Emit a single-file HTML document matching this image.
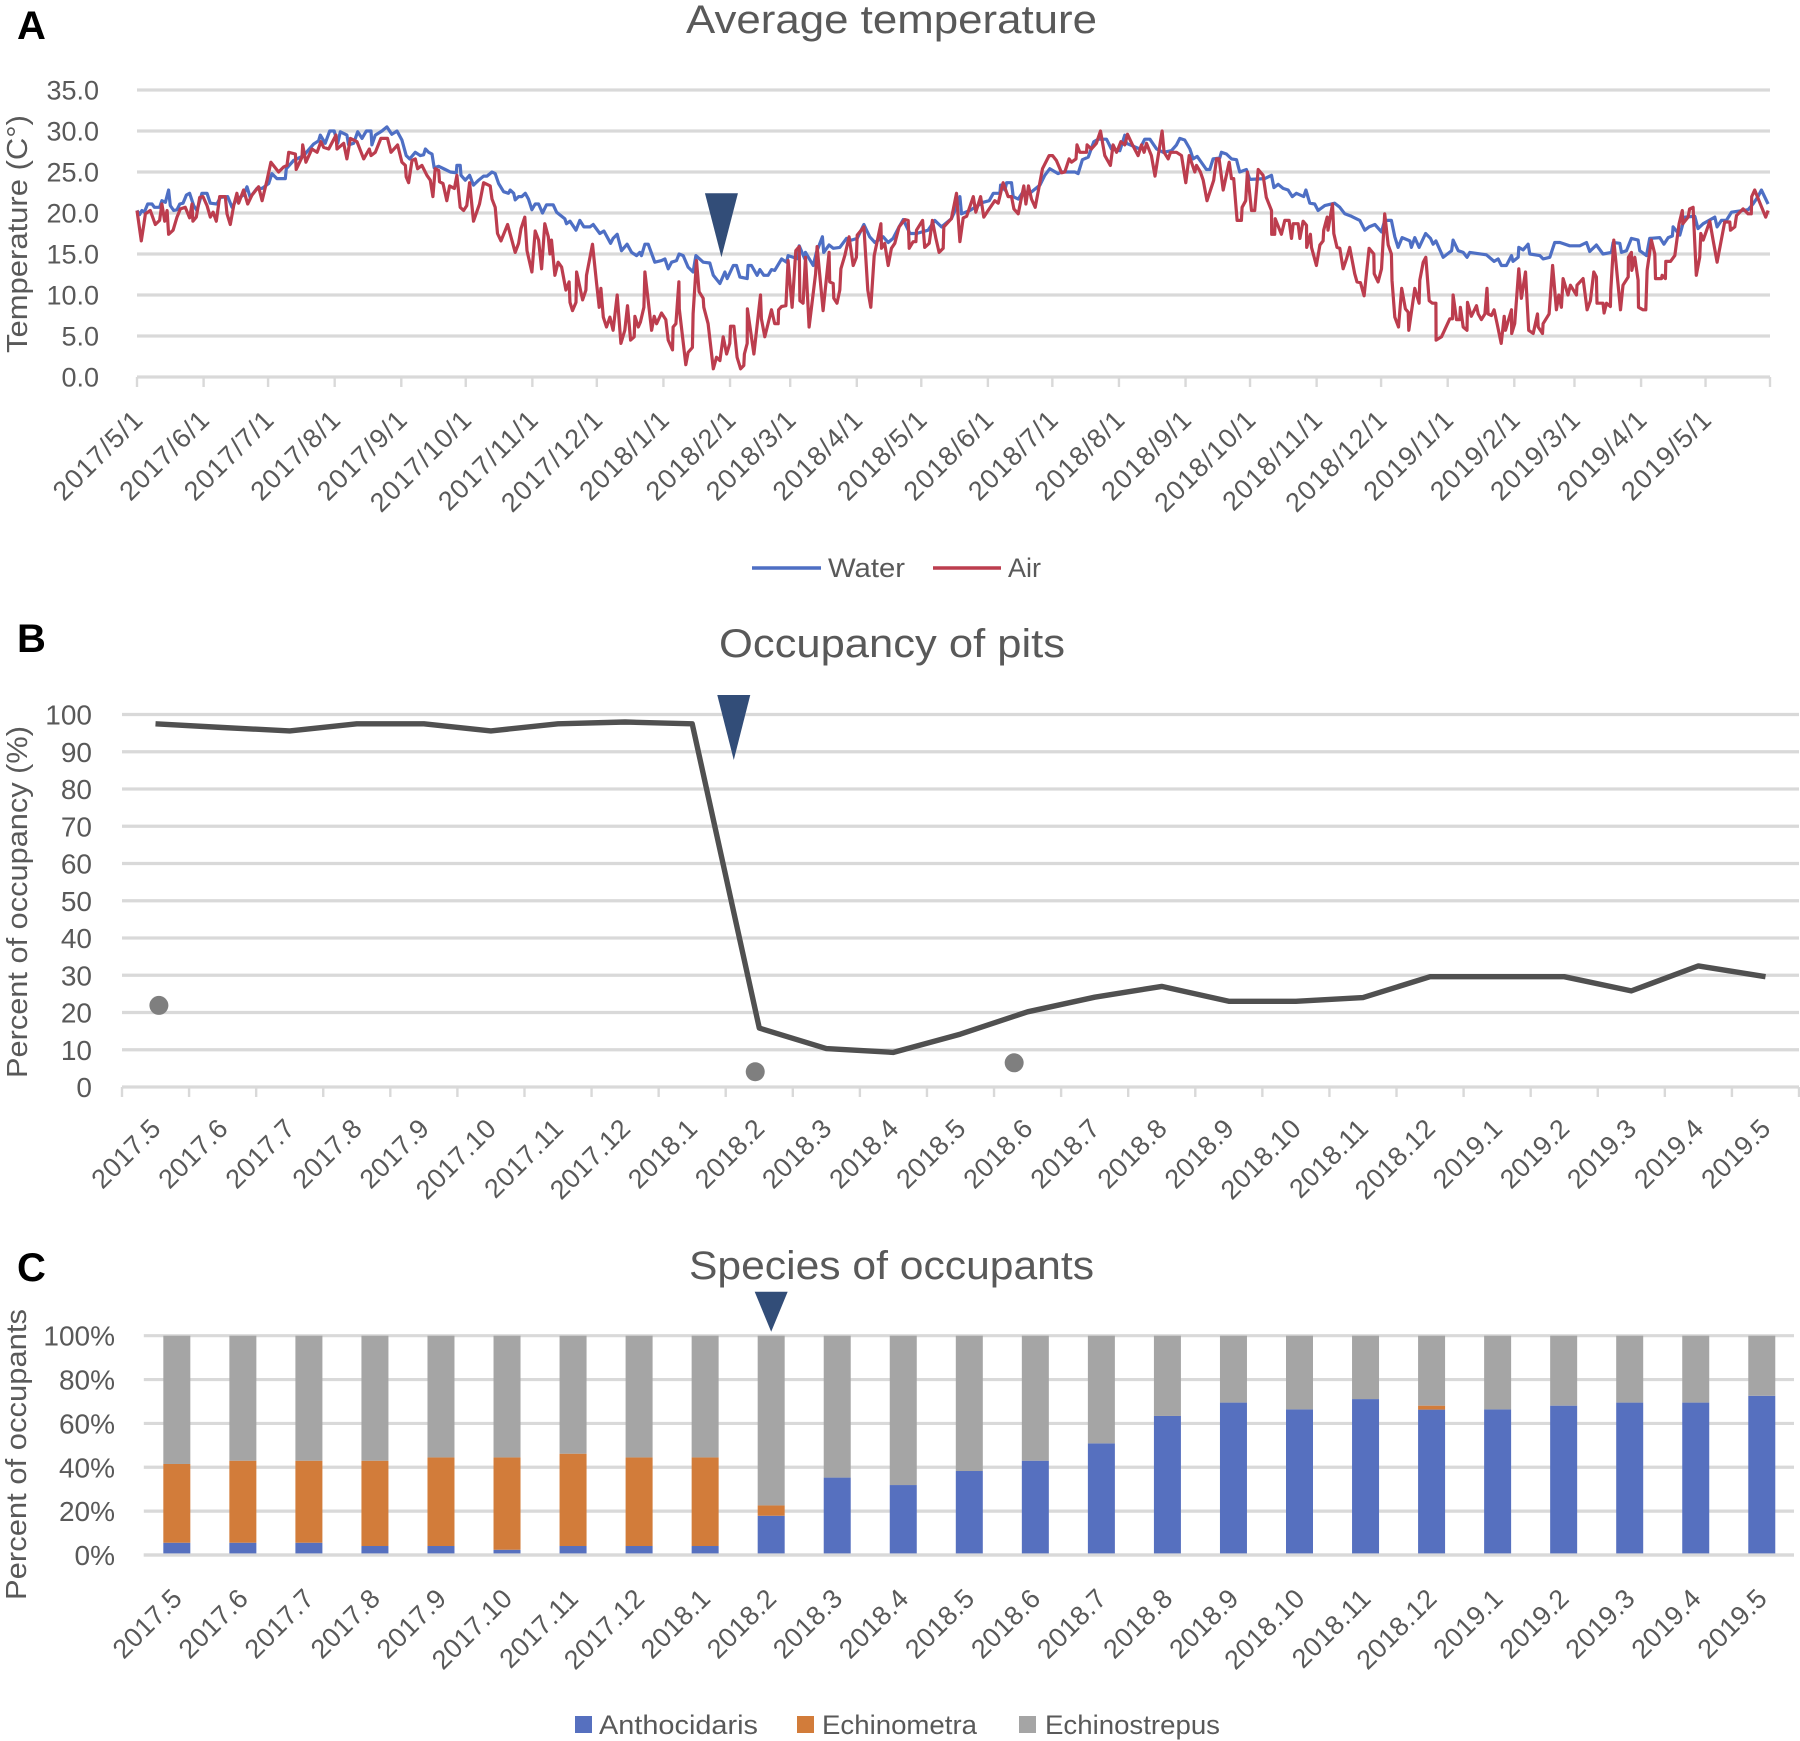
<!DOCTYPE html>
<html lang="en">
<head>
<meta charset="utf-8">
<title>Temperature, pit occupancy and occupant species</title>
<style>
html,body{margin:0;padding:0;background:#fff;}
svg{display:block;font-family:"Liberation Sans",Arial,sans-serif;}
</style>
</head>
<body>
<svg id="figure" xmlns="http://www.w3.org/2000/svg" width="1800" height="1741" viewBox="0 0 1800 1741">
  <rect x="0" y="0" width="1800" height="1741" fill="#ffffff"/>

  <text x="17" y="39" font-size="40" font-weight="700" fill="#000">A</text>
  <text x="17" y="652" font-size="40" font-weight="700" fill="#000">B</text>
  <text x="17" y="1281" font-size="40" font-weight="700" fill="#000">C</text>

  <text x="686" y="33" font-size="40" fill="#595959" textLength="411" lengthAdjust="spacingAndGlyphs">Average temperature</text>
  <text x="719" y="657" font-size="40" fill="#595959" textLength="346" lengthAdjust="spacingAndGlyphs">Occupancy of pits</text>
  <text x="689" y="1279" font-size="40" fill="#595959" textLength="405" lengthAdjust="spacingAndGlyphs">Species of occupants</text>

  <text transform="translate(27,353) rotate(-90)" font-size="29" fill="#595959" textLength="238" lengthAdjust="spacingAndGlyphs">Temperature (C°)</text>
  <text transform="translate(27,1078) rotate(-90)" font-size="29" fill="#595959" textLength="352" lengthAdjust="spacingAndGlyphs">Percent of occupancy (%)</text>
  <text transform="translate(26,1600) rotate(-90)" font-size="29" fill="#595959" textLength="291" lengthAdjust="spacingAndGlyphs">Percent of occupants</text>

  <g id="chartA"></g>
  <g id="chartB"></g>
  <g id="chartC"></g>

  <g>
    <line x1="752" y1="568" x2="821" y2="568" stroke="#4E6FC4" stroke-width="3.4"/>
    <text x="828" y="577" font-size="27" fill="#595959" textLength="77" lengthAdjust="spacingAndGlyphs">Water</text>
    <line x1="933" y1="568" x2="1001" y2="568" stroke="#BC3D4E" stroke-width="3.4"/>
    <text x="1008" y="577" font-size="27" fill="#595959" textLength="33" lengthAdjust="spacingAndGlyphs">Air</text>
  </g>
  <g>
    <rect x="575" y="1716" width="17" height="17" fill="#5670BF"/>
    <text x="599" y="1734" font-size="27" fill="#595959" textLength="159" lengthAdjust="spacingAndGlyphs">Anthocidaris</text>
    <rect x="797" y="1716" width="17" height="17" fill="#D27C3A"/>
    <text x="822" y="1734" font-size="27" fill="#595959" textLength="155" lengthAdjust="spacingAndGlyphs">Echinometra</text>
    <rect x="1019" y="1716" width="17" height="17" fill="#A5A5A5"/>
    <text x="1045" y="1734" font-size="27" fill="#595959" textLength="175" lengthAdjust="spacingAndGlyphs">Echinostrepus</text>
  </g>
</svg>

<script>
/* ---------- Panel A data: days since 2017/5/1 and temperature in deg C ---------- */
const tempTickLabels = ["2017/5/1","2017/6/1","2017/7/1","2017/8/1","2017/9/1","2017/10/1","2017/11/1","2017/12/1","2018/1/1","2018/2/1","2018/3/1","2018/4/1","2018/5/1","2018/6/1","2018/7/1","2018/8/1","2018/9/1","2018/10/1","2018/11/1","2018/12/1","2019/1/1","2019/2/1","2019/3/1","2019/4/1","2019/5/1"];
const tempTickDays = [0,31,61,92,123,153,184,214,245,276,304,335,365,396,426,457,488,518,549,579,610,641,669,700,730];
const tempAxisEndDay = 760;
const tempYTicks = [0,5,10,15,20,25,30,35];
const tempEventDay = 272;
const tempEventTip = 14.6;

const waterDays = [0,1.2,2.3,3.4,5,7,8.1,10.5,11.6,13.2,14.7,15.5,17.1,18.6,19.9,21.4,23,24.5,26.4,27.9,30.2,32.6,34.1,37.2,38.8,42.2,44.2,46.5,49.6,51.2,52.7,55.8,58.2,61.3,62.8,65.1,69,69.5,72.9,77.6,82.2,84.5,85.3,87.6,89.7,91.8,93.4,94.6,97.7,98.5,100.8,102.7,104.7,106.7,108.9,109.3,110.9,114,116.3,118.6,121,123.3,125.3,126.9,129.5,131.8,133.4,134.2,135.7,137.3,138.3,140.4,143.5,145.8,148.6,148.9,150.4,150.8,152.8,154.8,156.6,159,161.3,162.9,165.2,166.7,168.3,170.6,172.9,173.7,175.3,176,177.6,179.1,180.7,182.2,183.8,185.3,186.9,188.7,190.6,193.7,195.3,199.1,199.9,201.5,204.3,206.1,208,210.8,212.3,215.4,217.3,220.4,221.6,223.5,225.5,228.1,230.2,232.5,234,234.8,236.4,237.9,241,244.1,245.7,247.2,248.8,251.1,252.3,254.2,256.5,258.8,260.1,263.5,266.6,268.2,271.3,273.6,274.7,277.5,279,280.6,284,284.4,286,288.6,289.9,291.7,293.7,295.3,296.8,300,302.3,303,307.7,308.2,310.8,311.1,314.7,316.2,319,319.6,322.1,324,327.1,330.2,332.5,335.2,338.3,341,343.4,347.3,349.6,351.9,354.7,356.6,359.7,362.8,368.2,371.3,374.4,379,381.4,383,383.7,387.6,393.8,396.6,398.5,401.6,401.9,403.9,404.7,407,407.8,410.1,412.4,415.5,420.2,422.5,424.8,428.7,430.3,436.5,438,440,442.7,445.3,447.3,451.2,453.5,457.4,459.7,460.5,466.7,469,471.4,474.5,477.6,481.4,483.8,485.3,487.6,490,491.5,493.4,497.7,499.3,500.8,503.9,504.7,507,509.4,511.7,513.2,516.3,517.9,524.9,528,529.1,531.1,533.4,535.7,537.7,539.6,543,544,545.8,548.1,549.7,552.8,557.4,559.8,562.1,565.2,569.1,571.4,573.4,576.1,579.2,580.7,583.8,585.4,586.9,588.8,592.4,593.1,594.7,596.7,599.7,602,603.2,604.5,607.9,611.8,612.5,614.9,617.2,619,620.3,628,631.6,633.5,635,637.3,639.7,640.4,642.8,643.1,645.1,647.4,648.2,652.9,654.4,657.5,659.8,662.2,666.8,671.5,674.6,676.1,679.2,682.3,686.2,687,690.1,690.9,693.2,695.5,698.6,699.4,702.5,704,708.7,710.6,712.6,714.6,714.9,718,720.3,725,726.5,728.9,734.3,735.4,737.4,739.7,742.1,749.8,752.1,754.4,756,759.1];
const waterTemps = [20.3,19.8,20.3,20.1,21.1,21.1,20.7,20.7,21.5,21.3,22.8,20.9,20.3,20.4,21.1,21.2,22.2,22.4,20.9,20.3,22.4,22.4,21.2,21.1,21.9,22,20.7,21.7,22.2,23.2,21.9,23,23,23.6,24.8,24.2,24.2,25.4,26.4,27,28.4,28.8,29.5,28.5,30,30,28.5,29.9,29.5,28.3,28.5,29.9,29.1,30,30,28.3,29.5,30,30.5,29.6,30,28.9,27,26.6,27.4,27,27.1,27.8,27.4,27.2,25.5,25.7,25.3,25,24.9,25.8,25.8,24.6,24,24.6,23.4,24,24.5,24.5,25,24.8,23.6,22.6,22.4,22.8,22.4,21.6,22,22,22.4,21.7,20.4,21.1,21.1,20,21,21,20.1,19.3,18.7,19,17.9,19.1,18.3,18.3,18.6,17.5,17.8,16.3,16.9,17.4,15.4,16.2,15.2,14.8,15.2,14.8,16.2,16.2,14,14.2,14.4,13.2,14,14.2,15,14.8,13.4,12.8,14.8,14,13.9,12.4,11.4,12.8,12,13.6,13.6,12.2,12,13.6,13.6,12.4,13.1,12.4,12.4,13.1,13,14.4,14,14.8,14.4,16,14.4,15.2,13.6,15.2,17.1,15.2,16.1,15.7,15.8,16.9,16.7,16.9,18.6,17.1,16.4,17.1,16.4,16.9,18.3,19.2,17.5,17.5,17.9,19.1,18.3,19.3,20.7,22,19.9,20.3,21.3,21.5,22.4,22.4,23.4,22.8,23.7,23.7,22,21.7,22.6,22.4,23.4,24.6,25.4,24.8,25,25,24.8,26.5,26.8,28.7,29,29,27.8,27.6,29.5,28.5,27.8,29,29,27.8,27.4,27.6,28.3,29.1,28.9,27.8,26.6,26.9,25.3,25.3,26.6,26.7,27.4,27.2,26.6,26.5,25,25.3,24.1,24.2,24.6,23.1,23.5,23,22.8,22,22.4,22,22.8,21.2,21.1,20.3,20.9,21.2,20.7,19.9,19.6,19.1,17.9,18.3,18.6,17.7,19.1,19.1,17.1,15.8,17,16.6,15.8,17,15.8,17.5,16.9,16.2,16.6,14.6,15.4,16.7,15.4,15.2,14.6,15.2,14.9,14.1,14.4,13.6,13.6,14.8,14.1,14.6,15.8,15.5,16.2,15,14.8,14.4,14.6,16.4,16.4,16,16,16.4,15.3,16.1,15,15.2,16.4,16.3,15.2,15.4,16.9,16.7,15.4,14.8,16.9,17,16.2,17,17.2,18.3,17.3,19.5,19.6,18.1,18.7,19.5,18.3,19.1,19.1,20.1,20.4,21.1,22,22.8,21.1];

const airDays = [0,2,3.1,3.9,6.2,8.5,10.5,11.6,12.9,14,14.7,16.8,18.6,20.2,22.5,24.5,25.6,26,27.6,29.2,30.7,32.6,34.1,35.4,36.9,38.5,41.1,41.9,43.4,45,46.5,47.3,49.6,51.5,53.5,56.6,58.2,60.5,62.3,65.9,68.2,69.8,70.6,73.7,74.1,76.8,77.1,78.6,81.4,83.8,85.6,86.9,89.2,92.6,93.1,96.2,97.7,99.3,102.4,105.5,108.1,108.9,110.9,113.5,116.6,118.2,121.3,123.3,124.9,125.3,126.4,128,129.5,130.6,132.6,134.9,136.5,137.7,138.8,140.4,140.8,142.4,144.2,145.5,147.7,148.9,150.4,152,153.5,154.8,156.6,159.4,161.3,164.4,165.2,166.7,167.8,169.4,172.5,176,177.6,178.7,180.5,181.5,183.8,185.3,186.9,188.3,189.8,191.4,192.2,192.9,194.5,196,197.6,199.6,201.1,201.5,202.7,204.3,204.6,207.4,208.9,209.2,212,213.9,215.1,215.9,217,218.5,220.1,221.6,223.5,225.2,227,228.3,229.7,231.4,231.7,233.3,234.3,235.9,236.4,237.9,239.5,240.7,241.8,244.1,246.1,247.2,249.2,249.5,250.8,252.2,252.4,255.4,256.5,258.5,258.8,260.4,261.6,263.5,263.8,265.8,268.2,269.7,271.3,272.8,274.4,275.9,276.2,277.8,279.3,280.9,282.4,282.7,284,284.1,287.1,290.2,290.6,292.2,295.3,296.8,298.4,298.6,300,302,303,304.9,306.6,308.2,308.5,310,311.1,312.8,315.8,316.5,319.3,322.1,322.4,324,324.3,325.8,327.1,327.6,329.4,331.4,333.3,334.8,335.2,338.3,340.1,341.5,343.1,346.2,346.5,348,349.6,351.1,352.7,354.7,357.3,358.9,359.4,361.2,362.5,362.8,365.6,366.6,368.7,370.2,371.8,373.3,375.2,375.5,379,381.4,383,384.5,386.1,389.2,390.4,392.6,394.1,396.1,399.2,400.8,403.1,405.4,407,408.1,410.1,412.7,413.7,414.9,416.3,418,421.4,424.5,426.1,427.9,430.3,431.8,433.8,434.9,437,437.5,438.8,441.9,442.2,444.2,446.5,448.4,450.4,453,454.3,455.9,457.9,459.7,461,463.3,465.9,467.5,468.7,469.8,472.1,473.8,477.1,478,479.9,481,483.8,486.1,488.1,489.7,492.3,493.1,494.9,496.2,498,501.1,502.4,503.6,505.5,508.3,509.4,510.4,512,514,514.3,516,516.8,518.7,520.2,521.8,524.1,525.6,528,528.1,529.5,529.7,532.6,534.2,536.2,537.3,538.1,540.4,541.2,542.7,544.3,544.4,546.1,546.6,548.9,550.5,552,552.3,553.9,554.3,556.4,557,558.5,559.8,561.3,562.9,564.4,566.7,567.8,569.4,571.1,573.4,575.6,575.8,577.6,579.2,580.7,582.3,583.8,584.1,585.4,587.1,588.6,590.3,591.6,591.9,594.7,596.7,597,598.6,599.8,601.4,602.9,604.5,604.6,607.1,611,612.2,612.5,614.1,615.6,615.9,617.2,619,619.2,621,623.4,624.2,625.7,627.3,628.3,628.8,630.4,631.6,633,634.9,636.3,636.9,639.7,639.8,641.2,643.1,644.3,646.2,647.7,649.8,651.8,652.1,654.1,654.4,657.2,658.8,660.6,661.7,662.9,663.7,666,667.1,669.9,670.2,673,674.9,676.4,678,679.2,679.5,682.3,682.8,683.9,685.7,685.9,687.3,690.4,691.6,694,694.1,695.5,695.7,697.1,698.6,698.8,700.9,702.2,702.8,704.8,706.4,706.7,709.5,709.8,711.3,711.5,713.7,715.7,717.7,719.2,719.4,721.9,722.6,724.2,725.7,727.3,727.8,728.9,732,733.5,735.4,738.9,741.3,741.6,743.6,744.4,747.5,749.8,751.3,751.5,752.9,754.9,758,759.1];
const airTemps = [20.3,16.6,18.5,19.9,20.3,18.6,19.1,21.1,19,20.3,17.4,17.9,19.5,20.5,20.7,19.4,21.1,19,19.5,21.9,22,20.9,19.5,20.1,19,22,22,19.9,18.6,20.9,22.4,21.2,22.8,21.1,22.2,23.2,21.5,24,26.2,25,25.6,25.8,27.4,27.2,25.3,26.8,28.3,26.2,27.8,27.4,28.7,28,27.8,29.5,27.8,28.5,26.6,29.1,28.7,26.6,27.8,27,27.4,29.1,29.1,27.4,28.3,26.2,25.8,24.4,23.7,26.4,26.6,25.4,25.8,24.6,24,22,25.4,25.2,23.8,23.6,21.5,23.3,23,24.6,20.7,20.3,20.9,23.7,19,21.1,23.7,23.3,21.7,20.7,17.5,16.6,18.6,15.2,16.3,18.1,19.5,15.4,12.8,17.8,16.7,13.2,18.7,17.1,15,16.7,12.4,14,13.4,10.6,11.6,9.1,8.1,9.1,12.8,9.4,10.6,12.4,16.2,11.4,8.5,10.8,7.3,6.1,7.3,5.7,10,4.1,5.7,8.7,4.5,4.9,7.4,6.1,6.7,8.5,12.8,9.3,5.7,7.4,6.5,7.8,7,4.5,3.3,6.1,6.5,11.6,8.3,1.5,3,3.6,7.7,14.2,10.4,9.6,8.5,6.5,1,2.4,2,4.9,2.8,4.1,6.2,6.2,2.4,1,1.4,2.8,4.1,8.3,2.8,10,7.1,4.9,8.2,6.5,6.5,8.2,8.6,8.7,14.2,8.5,15.4,15.9,9.3,9,14.6,6.1,12.6,15.9,8.1,15.2,11.6,11.4,9.6,9,10.6,13.2,14.8,17.1,13.6,14.6,17.3,18.3,10.6,8.5,14.8,18.7,15.7,16.3,13.6,15.7,16.3,18.3,19.2,19.1,15.7,16.5,16.5,17.9,19.1,15.8,16.3,19.1,16.9,15.2,15.7,18.3,19.3,22.4,16.5,19.4,19.6,22,20.1,22,19.5,20.3,21.5,21.2,23.7,22,22,20.5,19.9,23.3,21.1,23.3,21.7,20.7,25.4,27,27,26.4,24.9,25,26.6,26.2,26.6,28.3,27.4,27.4,28.3,27.8,28.5,30,27,25.8,28.3,27.4,28.7,28.3,29.6,28.3,27,28.3,27.4,28.5,27,24.5,30,27.4,26.6,27.4,27.4,27,23.7,27,25,25.8,25,24,21.5,24,26.6,26.6,22.8,26.2,24.2,24.2,19.1,19.1,20.7,21.5,25,20.3,20.3,25.3,24.6,21.9,20.3,17.4,17.4,19.3,17.4,19.1,19.1,16.9,18.7,18.7,16.9,19,18.5,15.8,17.4,15.8,13.6,16.1,16.6,17.9,19.5,17.9,21.1,17.5,15.8,15.7,13.2,14.4,15.8,12.6,11.6,11.5,9.9,15.7,15,12.6,11.6,13.2,19.9,16.1,15,11.8,7.3,6.1,10.8,8.3,7.9,5.7,10.8,9,11.8,14,14.6,9.3,9,9,4.5,4.9,7.1,7.1,10,7,7,8.5,6.1,5.7,9.1,7.4,8.7,7.7,7,7.7,10.8,7.7,7.5,8.2,6.5,4.1,7.4,5.7,8.2,5.3,6.5,13.2,9.6,12.8,5.7,5.3,7.7,6.1,5.3,6.5,7.7,13.6,8.2,10,8.5,12,10,11.2,10,11.2,12,8.2,9.3,12.8,12.2,9,9,7.8,9,8.6,10.6,16.7,8.2,11.2,12.2,14.6,15.2,13,14.6,11.8,8.5,8.2,8.2,13,16.7,15,12,12,12.4,12,14.1,14.1,14.8,18.7,20.3,18.7,19.5,20.5,20.7,12.4,14.6,17.5,16.7,19,16.7,14,18.9,18.9,17.9,18.3,19.7,20.5,19.9,19.9,22,22.8,21.5,19.5,20.3];

/* ---------- Panel B data ---------- */
const months = ["2017.5","2017.6","2017.7","2017.8","2017.9","2017.10","2017.11","2017.12","2018.1","2018.2","2018.3","2018.4","2018.5","2018.6","2018.7","2018.8","2018.9","2018.10","2018.11","2018.12","2019.1","2019.2","2019.3","2019.4","2019.5"];
const occupancy = [97.5,96.5,95.6,97.5,97.5,95.6,97.5,98,97.5,15.8,10.3,9.3,14.2,20.2,24.1,27,23,23,24,29.6,29.6,29.6,25.8,32.5,29.6];
const occupancyYTicks = [0,10,20,30,40,50,60,70,80,90,100];
const markerPositions = [0.05,8.94,12.8];
const markerValues = [21.9,4.1,6.5];
const occupancyEventPos = 8.62;
const occupancyEventTip = 87.8;

/* ---------- Panel C data (percent) ---------- */
const anthocidaris = [5.6,5.6,5.6,4.1,4.1,2.4,4.1,4.1,4.1,17.9,35.3,31.9,38.3,43,50.9,63.4,69.5,66.4,71.1,66.3,66.4,68.1,69.5,69.5,72.6];
const echinometra = [35.9,37.4,37.4,38.9,40.4,42.1,42.1,40.4,40.4,4.7,0,0,0,0,0,0,0,0,0,1.8,0,0,0,0,0];
const echinostrepus = [58.5,57,57,57,55.5,55.5,53.8,55.5,55.5,77.4,64.7,68.1,61.7,57,49.1,36.6,30.5,33.6,28.9,31.9,33.6,31.9,30.5,30.5,27.4];
const speciesYTicks = [0,20,40,60,80,100];
const speciesEventPos = 9;
const speciesEventTip = 101.8;

/* ---------- Drawing helpers ---------- */
const NS = "http://www.w3.org/2000/svg";
const GRID = "#D9D9D9", INK = "#595959", NAVY = "#324D78";
function make(parent, tag, attrs, text) {
  const node = document.createElementNS(NS, tag);
  for (const k in attrs) node.setAttribute(k, attrs[k]);
  if (text !== undefined) node.textContent = text;
  parent.appendChild(node);
  return node;
}
function triangle(parent, tipX, tipY, halfWidth, height) {
  return make(parent, "polygon", {
    points: (tipX - halfWidth) + "," + (tipY - height) + " " + (tipX + halfWidth) + "," + (tipY - height) + " " + tipX + "," + tipY,
    fill: NAVY
  });
}
function polyPoints(xs, ys) {
  return xs.map(function (x, i) { return x.toFixed(1) + "," + ys[i].toFixed(1); }).join(" ");
}

/* ---------- Panel A ---------- */
(function () {
  const g = document.getElementById("chartA");
  const x = function (d) { return 137 + d * (1770 - 137) / tempAxisEndDay; };
  const y = function (v) { return 377 - v * (377 - 90) / 35; };

  tempYTicks.forEach(function (t) {
    const line = make(g, "line", { x1: 137, x2: 1770, y1: y(t), y2: y(t), stroke: GRID, "stroke-width": 3.2 });
    
    
    const label = make(g, "text", { x: 99, y: y(t) + 9.5, "font-size": 27, fill: INK, "text-anchor": "end" }, t.toFixed(1));
    
    
  });

  tempTickDays.concat([tempAxisEndDay]).forEach(function (d) {
    const tick = make(g, "line", { x1: x(d), x2: x(d), y1: 377, y2: 387, stroke: GRID, "stroke-width": 2.4 });
    
    
  });

  tempTickLabels.forEach(function (lab, i) {
    const ex = x(tempTickDays[i]) + 8, ey = 421;
    const label = make(g, "text", {
      transform: "translate(" + ex + "," + ey + ") rotate(-45)",
      "font-size": 27, fill: INK, "text-anchor": "end", "letter-spacing": 1.2
    }, lab);
    
    
  });

  const water = make(g, "polyline", {
    points: polyPoints(waterDays.map(x), waterTemps.map(y)),
    fill: "none", stroke: "#4E6FC4", "stroke-width": 3.2, "stroke-linejoin": "round"
  });
  
  

  const air = make(g, "polyline", {
    points: polyPoints(airDays.map(x), airTemps.map(y)),
    fill: "none", stroke: "#BC3D4E", "stroke-width": 3.2, "stroke-linejoin": "round"
  });
  
  

  const arrow = triangle(g, x(tempEventDay), y(tempEventTip), 16.5, 64);
  
  
})();

/* ---------- Panel B ---------- */
(function () {
  const g = document.getElementById("chartB");
  const left = 122, right = 1799;
  const band = (right - left) / months.length;
  const x = function (i) { return left + (i + 0.5) * band; };
  const y = function (v) { return 1087 - v * 3.725; };

  occupancyYTicks.forEach(function (t) {
    const line = make(g, "line", { x1: left, x2: right, y1: y(t), y2: y(t), stroke: GRID, "stroke-width": 3.2 });
    
    
    const label = make(g, "text", { x: 92, y: y(t) + 10, "font-size": 28, fill: INK, "text-anchor": "end" }, String(t));
    
    
  });

  for (let i = 0; i <= months.length; i++) {
    const tx = left + i * band;
    const tick = make(g, "line", { x1: tx, x2: tx, y1: 1087, y2: 1097, stroke: GRID, "stroke-width": 2.4 });
    
    
  }

  months.forEach(function (m, i) {
    const label = make(g, "text", {
      transform: "translate(" + (x(i) + 7) + ",1130) rotate(-45)",
      "font-size": 27, fill: INK, "text-anchor": "end", "letter-spacing": 0.4
    }, m);
    
    
  });

  const line = make(g, "polyline", {
    points: polyPoints(occupancy.map(function (v, i) { return x(i); }), occupancy.map(y)),
    fill: "none", stroke: "#505050", "stroke-width": 5.4, "stroke-linejoin": "round"
  });
  
  

  markerPositions.forEach(function (p, i) {
    const dot = make(g, "circle", { cx: x(p), cy: y(markerValues[i]), r: 9.5, fill: "#7F7F7F" });
    
    
  });

  const arrow = triangle(g, x(occupancyEventPos), y(occupancyEventTip), 16.5, 65);
  
  
})();

/* ---------- Panel C ---------- */
(function () {
  const g = document.getElementById("chartC");
  const left = 143.8, right = 1794, step = 66.04;
  const x = function (i) { return left + (i + 0.5) * step; };
  const y = function (v) { return 1555 - v * 2.193; };
  const barW = 27;

  speciesYTicks.forEach(function (t) {
    const line = make(g, "line", { x1: left, x2: right, y1: y(t), y2: y(t), stroke: GRID, "stroke-width": 3.2 });
    
    
    const label = make(g, "text", { x: 115, y: y(t) + 10, "font-size": 28, fill: INK, "text-anchor": "end" }, t + "%");
    
    
  });

  months.forEach(function (m, i) {
    const a = anthocidaris[i], e = echinometra[i], s = echinostrepus[i];
    const barA = make(g, "rect", { x: x(i) - barW / 2, y: y(a), width: barW, height: y(0) - y(a), fill: "#5670BF" });
    
    
    const barE = make(g, "rect", { x: x(i) - barW / 2, y: y(a + e), width: barW, height: y(a) - y(a + e), fill: "#D27C3A" });
    
    
    const barS = make(g, "rect", { x: x(i) - barW / 2, y: y(a + e + s), width: barW, height: y(a + e) - y(a + e + s), fill: "#A5A5A5" });
    
    
    const label = make(g, "text", {
      transform: "translate(" + (x(i) + 7) + ",1600) rotate(-45)",
      "font-size": 27, fill: INK, "text-anchor": "end", "letter-spacing": 0.4
    }, m);
    
    
  });

  const baseline = make(g, "line", { x1: left, x2: right, y1: y(0), y2: y(0), stroke: GRID, "stroke-width": 3.2 });
  
  

  const arrow = triangle(g, x(speciesEventPos), y(speciesEventTip), 16.5, 40);
  
  
})();
</script>
</body>
</html>
